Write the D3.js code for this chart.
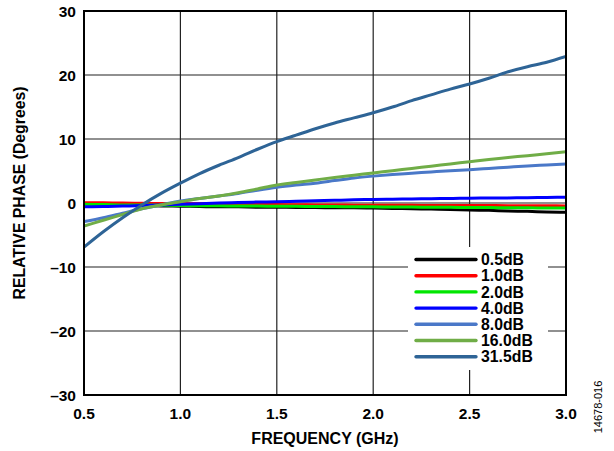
<!DOCTYPE html>
<html><head><meta charset="utf-8">
<script src="https://cdn.jsdelivr.net/npm/d3@7"></script>
<style>body{margin:0;background:#fff}svg{display:block}text{font-family:Arial,"Liberation Sans",sans-serif;font-weight:bold;fill:#000}</style>
</head><body>
<svg id="c" width="614" height="451"></svg>
<script>
const freq = [0.5,0.6,0.7,0.8,0.9,1.0,1.1,1.2,1.3,1.4,1.5,1.6,1.7,1.8,1.9,2.0,2.1,2.2,2.3,2.4,2.5,2.6,2.7,2.8,2.9,3.0];
const s05  = [-0.1,-0.15,-0.25,-0.35,-0.45,-0.5,-0.55,-0.6,-0.6,-0.65,-0.65,-0.7,-0.7,-0.75,-0.75,-0.8,-0.85,-0.9,-0.95,-1.0,-1.1,-1.15,-1.25,-1.3,-1.4,-1.45];
const s10  = [0.05,0.02,0.0,-0.05,-0.08,-0.1,-0.12,-0.15,-0.18,-0.2,-0.25,-0.27,-0.3,-0.32,-0.34,-0.35,-0.36,-0.37,-0.38,-0.39,-0.4,-0.4,-0.42,-0.43,-0.44,-0.45];
const s20  = [-0.2,-0.25,-0.3,-0.32,-0.35,-0.4,-0.42,-0.44,-0.46,-0.48,-0.5,-0.52,-0.54,-0.56,-0.58,-0.6,-0.62,-0.64,-0.66,-0.68,-0.7,-0.72,-0.74,-0.76,-0.78,-0.8];
const s40  = [-0.6,-0.55,-0.48,-0.4,-0.3,-0.2,-0.1,0.0,0.08,0.15,0.2,0.28,0.35,0.42,0.5,0.55,0.6,0.63,0.67,0.7,0.75,0.78,0.8,0.83,0.87,0.9];
const s80  = [-2.9,-2.3,-1.6,-0.9,-0.3,0.3,0.7,1.1,1.5,2.0,2.45,2.8,3.1,3.5,3.9,4.2,4.45,4.65,4.85,5.05,5.2,5.4,5.6,5.8,5.95,6.1];
const s160 = [-3.6,-2.7,-1.8,-0.9,-0.3,0.2,0.7,1.1,1.6,2.2,2.8,3.2,3.6,4.0,4.35,4.7,5.05,5.4,5.75,6.1,6.45,6.8,7.1,7.4,7.7,8.0];
const s315 = [-6.9,-4.5,-2.3,-0.3,1.5,3.1,4.6,5.9,7.1,8.4,9.6,10.6,11.6,12.5,13.3,14.1,15.0,16.0,16.9,17.8,18.6,19.5,20.5,21.3,22.0,22.9];
const seriesNames = ["0.5dB","1.0dB","2.0dB","4.0dB","8.0dB","16.0dB","31.5dB"];
const seriesValues = [s05,s10,s20,s40,s80,s160,s315];
const seriesColors = ["#000000","#ff0000","#00e600","#0000ff","#4a78c8","#70ad47","#2e6496"];
const xTicks = [0.5,1.0,1.5,2.0,2.5,3.0];
const yTicks = [-30,-20,-10,0,10,20,30];

const svg = d3.select("#c");
const L=84, R=566, T=11, B=395;
const x = d3.scaleLinear().domain([0.5,3.0]).range([L,R]);
const y = d3.scaleLinear().domain([-30,30]).range([B,T]);

// grid
const grid = svg.append("g");
grid.selectAll(".gx").data(xTicks.slice(1,-1)).join("line")
  .attr("x1",d=>x(d)).attr("x2",d=>x(d)).attr("y1",T).attr("y2",B)
  .attr("stroke","#222").attr("stroke-width",1.2);
grid.selectAll(".gy").data(yTicks.slice(1,-1)).join("line")
  .attr("x1",L).attr("x2",R).attr("y1",d=>y(d)).attr("y2",d=>y(d))
  .attr("stroke","#222").attr("stroke-width",1.2);

// series
const line = d3.line().x((d,i)=>x(freq[i])).y(d=>y(d)).curve(d3.curveMonotoneX);
svg.append("clipPath").attr("id","pc").append("rect").attr("x",L).attr("y",T).attr("width",R-L).attr("height",B-T);
const lg = svg.append("g").attr("clip-path","url(#pc)");
seriesValues.forEach((vals,k)=>{
  lg.append("path").datum(vals).attr("d",line).attr("fill","none")
    .attr("stroke",seriesColors[k]).attr("stroke-width",3).attr("stroke-linejoin","round");
});

// legend
const leg = svg.append("g");
leg.append("rect").attr("x",408).attr("y",247).attr("width",140).attr("height",123).attr("fill","#fff");
seriesNames.forEach((n,k)=>{
  const yy = 259.5 + k*16.2;
  leg.append("line").attr("x1",416).attr("x2",476).attr("y1",yy).attr("y2",yy)
    .attr("stroke",seriesColors[k]).attr("stroke-width",3.4).attr("stroke-linecap","round");
  leg.append("text").attr("x",481).attr("y",yy).attr("dy","0.36em").attr("font-size",15.8).text(n);
});

// frame
svg.append("rect").attr("x",L).attr("y",T).attr("width",R-L).attr("height",B-T)
  .attr("fill","none").attr("stroke","#000").attr("stroke-width",2);

// axes labels
const fmtY = d=> d<0 ? "\u2013"+Math.abs(d) : String(d);
svg.selectAll(".yt").data(yTicks).join("text")
  .attr("x",76).attr("y",d=>y(d)).attr("dy","0.36em").attr("text-anchor","end")
  .attr("font-size",15.5).text(fmtY);
svg.selectAll(".xt").data(xTicks).join("text")
  .attr("x",d=>x(d)).attr("y",413).attr("dy","0.36em").attr("text-anchor","middle")
  .attr("font-size",15.5).text(d=>d.toFixed(1));
svg.append("text").attr("x",325).attr("y",438).attr("dy","0.36em").attr("text-anchor","middle")
  .attr("font-size",16).text("FREQUENCY (GHz)");
svg.append("text").attr("transform","translate(19,193) rotate(-90)").attr("dy","0.36em")
  .attr("text-anchor","middle").attr("font-size",15.8).text("RELATIVE PHASE (Degrees)");
svg.append("text").attr("transform","translate(598,407) rotate(-90)").attr("dy","0.36em")
  .attr("text-anchor","middle").attr("font-size",11).style("font-weight","normal").text("14678-016");
</script>
</body></html>
